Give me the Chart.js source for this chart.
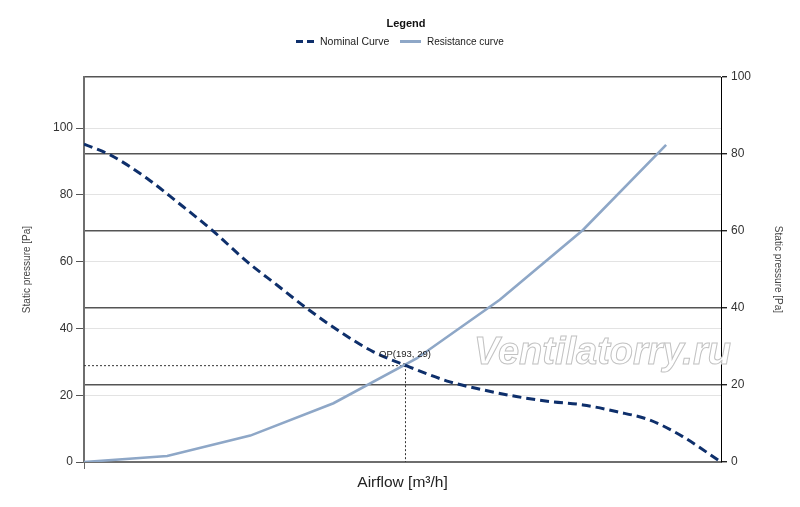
<!DOCTYPE html>
<html><head><meta charset="utf-8">
<script src="https://cdn.jsdelivr.net/npm/chart.js@4.4.0/dist/chart.umd.min.js"></script>
<style>html,body{margin:0;padding:0;background:#fff;}#wrap{width:800px;height:507px;}</style>
</head><body><div id="wrap"><canvas id="c" width="800" height="507"></canvas></div>
<script>
const nominalAirflow = [0,16,38,56,78,98,116,134,154,174,193,220,240,260,280,300,320,340,360,383];
const nominalPressure = [95.2,91.9,84.9,77.9,69,60,53,46,39,33,29,24,21.6,19.6,18.1,17.1,15.1,12.6,7.6,0];
const resistanceAirflow = [0,50,100,150,200,250,300,350];
const resistancePressure = [0,1.8,7.9,17.6,31,48.6,69.5,95];
const opPoint = [193,29];
const seriesNames = ['Nominal Curve','Resistance curve'];
const legendTitle = 'Legend';
const xTitle = 'Airflow [m³/h]';
const yTitle = 'Static pressure [Pa]';
const watermark = 'Ventilatorry.ru';

const FAM = "'Liberation Sans', Arial, sans-serif";
Chart.defaults.font.family = FAM;
const NAVY = '#0e2f6b';
const STEEL = '#8ea7c7';

const pts = (xs, ys) => xs.map((x,i)=>({x:x,y:ys[i]}));

const overlay = {
  id:'overlay',
  beforeDatasetsDraw(chart){
    const ctx = chart.ctx, xs = chart.scales.x, ys = chart.scales.y;
    const px = xs.getPixelForValue(opPoint[0]), py = ys.getPixelForValue(opPoint[1]);
    ctx.save();
    ctx.strokeStyle = '#333'; ctx.lineWidth = 1; ctx.setLineDash([2,2]);
    ctx.beginPath();
    ctx.moveTo(xs.left, py+0.5); ctx.lineTo(px, py+0.5);
    ctx.moveTo(px+0.5, py); ctx.lineTo(px+0.5, ys.bottom);
    ctx.stroke();
    ctx.restore();
  },
  afterDraw(chart){
    const ctx = chart.ctx, xs = chart.scales.x, ys = chart.scales.y;
    const px = xs.getPixelForValue(opPoint[0]), py = ys.getPixelForValue(opPoint[1]);
    ctx.save();
    ctx.fillStyle = '#222'; ctx.font = '9.5px ' + FAM; ctx.textAlign='center'; ctx.textBaseline='middle';
    ctx.fillText('OP(' + opPoint[0] + ', ' + opPoint[1] + ')', px, py - 11);
    ctx.font = 'italic bold 38px ' + FAM; ctx.textAlign='left'; ctx.textBaseline='alphabetic';
    ctx.fillStyle = '#fff'; ctx.strokeStyle = '#c2c2c2'; ctx.lineWidth = 1;
    ctx.fillText(watermark, 474, 364); ctx.strokeText(watermark, 474, 364);
    ctx.fillStyle = '#111'; ctx.font = 'bold 11px ' + FAM; ctx.textAlign='center'; ctx.textBaseline='middle';
    ctx.fillText(legendTitle, 406, 24);
    ctx.lineWidth = 3;
    ctx.strokeStyle = NAVY; ctx.setLineDash([7,4]);
    ctx.beginPath(); ctx.moveTo(296, 41.5); ctx.lineTo(316, 41.5); ctx.stroke();
    ctx.setLineDash([]); ctx.strokeStyle = STEEL;
    ctx.beginPath(); ctx.moveTo(400, 41.5); ctx.lineTo(421, 41.5); ctx.stroke();
    ctx.fillStyle = '#222'; ctx.textAlign='left';
    ctx.font = '10.5px ' + FAM; ctx.fillText(seriesNames[0], 320, 42);
    ctx.font = '10px ' + FAM; ctx.fillText(seriesNames[1], 427, 42);
    ctx.restore();
  }
};

new Chart(document.getElementById('c'), {
  type:'line',
  data:{datasets:[
    {label:seriesNames[0], data:pts(nominalAirflow,nominalPressure), yAxisID:'y', borderColor:NAVY, borderWidth:3, borderDash:[9,5], pointRadius:0, cubicInterpolationMode:'monotone', fill:false},
    {label:seriesNames[1], data:pts(resistanceAirflow,resistancePressure), yAxisID:'y', borderColor:STEEL, borderWidth:2.6, pointRadius:0, tension:0, fill:false},
    {label:'OP', data:[{x:opPoint[0], y:opPoint[1]}], yAxisID:'y', showLine:false, pointStyle:'rect', pointRadius:2.5, backgroundColor:'#000', borderColor:'#000', borderWidth:0}
  ]},
  options:{
    responsive:false, animation:false, devicePixelRatio:1,
    layout:{padding:{top:77,left:0,right:0,bottom:0}},
    plugins:{legend:{display:false}, tooltip:{enabled:false}},
    scales:{
      x:{type:'linear', position:'bottom', min:0, max:383,
        afterBuildTicks:s=>{s.ticks=[{value:0}];},
        ticks:{display:false},
        grid:{drawOnChartArea:false, tickLength:7, color:'#666'},
        border:{color:'#6e6e6e', width:2},
        title:{display:true, text:xTitle, color:'#222', font:{size:15.5}, padding:{top:0,bottom:15}},
        afterFit:s=>{s.height=45;}
      },
      y:{type:'linear', position:'left', min:0, max:115.3,
        ticks:{stepSize:20, includeBounds:false, color:'#333', font:{size:12}, padding:3},
        grid:{color:'#e3e3e3', tickColor:'#555', tickLength:8},
        border:{color:'#6e6e6e', width:2},
        title:{display:true, text:yTitle, color:'#444', font:{size:10}, padding:{top:21,bottom:0}},
        afterFit:s=>{s.width=84;}
      },
      y2:{type:'linear', position:'right', min:0, max:100,
        ticks:{stepSize:20, color:'#333', font:{size:12}, padding:4},
        grid:{color:'#555', lineWidth:1.4, tickColor:'#222', tickLength:6},
        border:{color:'#000', width:1},
        title:{display:true, text:yTitle, color:'#444', font:{size:10}, padding:{top:16,bottom:0}},
        afterFit:s=>{s.width=79;}
      }
    }
  },
  plugins:[overlay]
});
</script>
</body></html>
